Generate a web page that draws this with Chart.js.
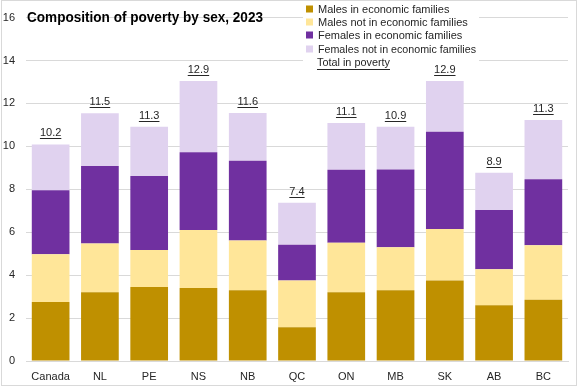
<!DOCTYPE html>
<html>
<head>
<meta charset="utf-8">
<script src="https://cdn.jsdelivr.net/npm/chart.js@4"></script>
<style>
  html, body { margin: 0; padding: 0; background: #fff; }
  #wrap { width: 579px; height: 388px; position: relative; }
</style>
</head>
<body>
<div id="wrap"><canvas id="povertyChart" width="579" height="388"></canvas></div>
<script>
// --- Data ---
const provinces = ['Canada', 'NL', 'PE', 'NS', 'NB', 'QC', 'ON', 'MB', 'SK', 'AB', 'BC'];
const malesInEF = [2.75, 3.2, 3.45, 3.4, 3.3, 1.57, 3.2, 3.3, 3.75, 2.6, 2.85];
const malesNotInEF = [2.22, 2.27, 1.72, 2.7, 2.31, 2.18, 2.31, 2.0, 2.4, 1.68, 2.54];
const femalesInEF = [2.99, 3.62, 3.45, 3.63, 3.72, 1.67, 3.4, 3.62, 4.53, 2.76, 3.08];
const femalesNotInEF = [2.13, 2.45, 2.3, 3.32, 2.22, 1.95, 2.18, 2.0, 2.37, 1.73, 2.76];
const totalInPoverty = [10.2, 11.5, 11.3, 12.9, 11.6, 7.4, 11.1, 10.9, 12.9, 8.9, 11.3];

const FONT = '"Liberation Sans", Arial, sans-serif';
const TEXT = '#262626';

// draws the frame, title, legend and the underlined totals
const decorPlugin = {
    id: 'decor',
    beforeDraw(chart) {
        const ctx = chart.ctx;
        ctx.save();
        ctx.fillStyle = '#fff';
        ctx.fillRect(0, 0, chart.width, chart.height);
        ctx.restore();
    },
    beforeDatasetsDraw(chart) {
        // legend sits on a white box that hides the gridlines
        const ctx = chart.ctx;
        ctx.save();
        ctx.fillStyle = '#fff';
        ctx.fillRect(303, 2, 176, 67);
        ctx.restore();
    },
    afterDatasetsDraw(chart) {
        const ctx = chart.ctx;
        const lastMeta = chart.getDatasetMeta(chart.data.datasets.length - 1);
        ctx.save();
        ctx.font = '11px ' + FONT;
        ctx.fillStyle = TEXT;
        ctx.strokeStyle = TEXT;
        ctx.lineWidth = 1;
        ctx.textAlign = 'center';
        ctx.textBaseline = 'alphabetic';
        lastMeta.data.forEach((bar, i) => {
            const label = totalInPoverty[i].toFixed(1);
            const base = bar.y - 8;
            ctx.fillText(label, bar.x, base);
            const w = ctx.measureText(label).width;
            ctx.beginPath();
            ctx.moveTo(bar.x - w / 2, Math.round(base + 2) + 0.5);
            ctx.lineTo(bar.x + w / 2, Math.round(base + 2) + 0.5);
            ctx.stroke();
        });
        ctx.restore();
    },
    afterDraw(chart) {
        const ctx = chart.ctx;
        ctx.save();
        // outer frame
        ctx.strokeStyle = '#d9d9d9';
        ctx.lineWidth = 1;
        ctx.strokeRect(1.5, 0.5, 575, 385);

        // title
        ctx.fillStyle = '#000';
        ctx.font = 'bold 15px ' + FONT;
        ctx.textBaseline = 'middle';
        ctx.textAlign = 'left';
        ctx.fillText('Composition of poverty by sex, 2023', 27, 17.5, 236);

        // legend
        ctx.font = '11px ' + FONT;
        ctx.fillStyle = TEXT;
        const rows = [9, 22, 35, 49];
        chart.data.datasets.forEach((ds, i) => {
            ctx.fillStyle = ds.backgroundColor;
            ctx.fillRect(306, rows[i] - 3.5, 7, 7);
            ctx.fillStyle = TEXT;
            ctx.fillText(ds.label, 318, rows[i] + 0.5, 158);
        });
        const totText = 'Total in poverty';
        ctx.fillText(totText, 317, 62.5, 73);
        const tw = Math.min(ctx.measureText(totText).width, 73);
        ctx.strokeStyle = TEXT;
        ctx.beginPath();
        ctx.moveTo(317, 69.5);
        ctx.lineTo(317 + tw, 69.5);
        ctx.stroke();
        ctx.restore();
    }
};

const ctx = document.getElementById('povertyChart').getContext('2d');
new Chart(ctx, {
    type: 'bar',
    data: {
        labels: provinces,
        datasets: [
            { label: 'Males in economic families', data: malesInEF, backgroundColor: '#bf9000' },
            { label: 'Males not in economic families', data: malesNotInEF, backgroundColor: '#ffe699' },
            { label: 'Females in economic families', data: femalesInEF, backgroundColor: '#7030a0' },
            { label: 'Females not in economic families', data: femalesNotInEF, backgroundColor: '#e0d2ef' }
        ]
    },
    options: {
        responsive: false,
        animation: false,
        layout: { padding: { top: 9, right: 11, left: 0, bottom: 0 } },
        datasets: { bar: { barPercentage: 0.765, categoryPercentage: 1 } },
        plugins: {
            legend: { display: false },
            title: { display: false },
            tooltip: { enabled: false }
        },
        scales: {
            x: {
                stacked: true,
                grid: { display: false, drawTicks: false },
                border: { display: true, color: '#d9d9d9' },
                ticks: { color: TEXT, font: { family: FONT, size: 11 }, padding: 9, maxRotation: 0 },
                afterFit(scale) { scale.height = 27; }
            },
            y: {
                stacked: true,
                min: 0,
                max: 16,
                grid: { color: '#d9d9d9', drawTicks: false },
                border: { display: false },
                ticks: { stepSize: 2, color: TEXT, font: { family: FONT, size: 11 }, padding: 11 },
                afterFit(scale) { scale.width = 26; }
            }
        }
    },
    plugins: [decorPlugin]
});
</script>
</body>
</html>
